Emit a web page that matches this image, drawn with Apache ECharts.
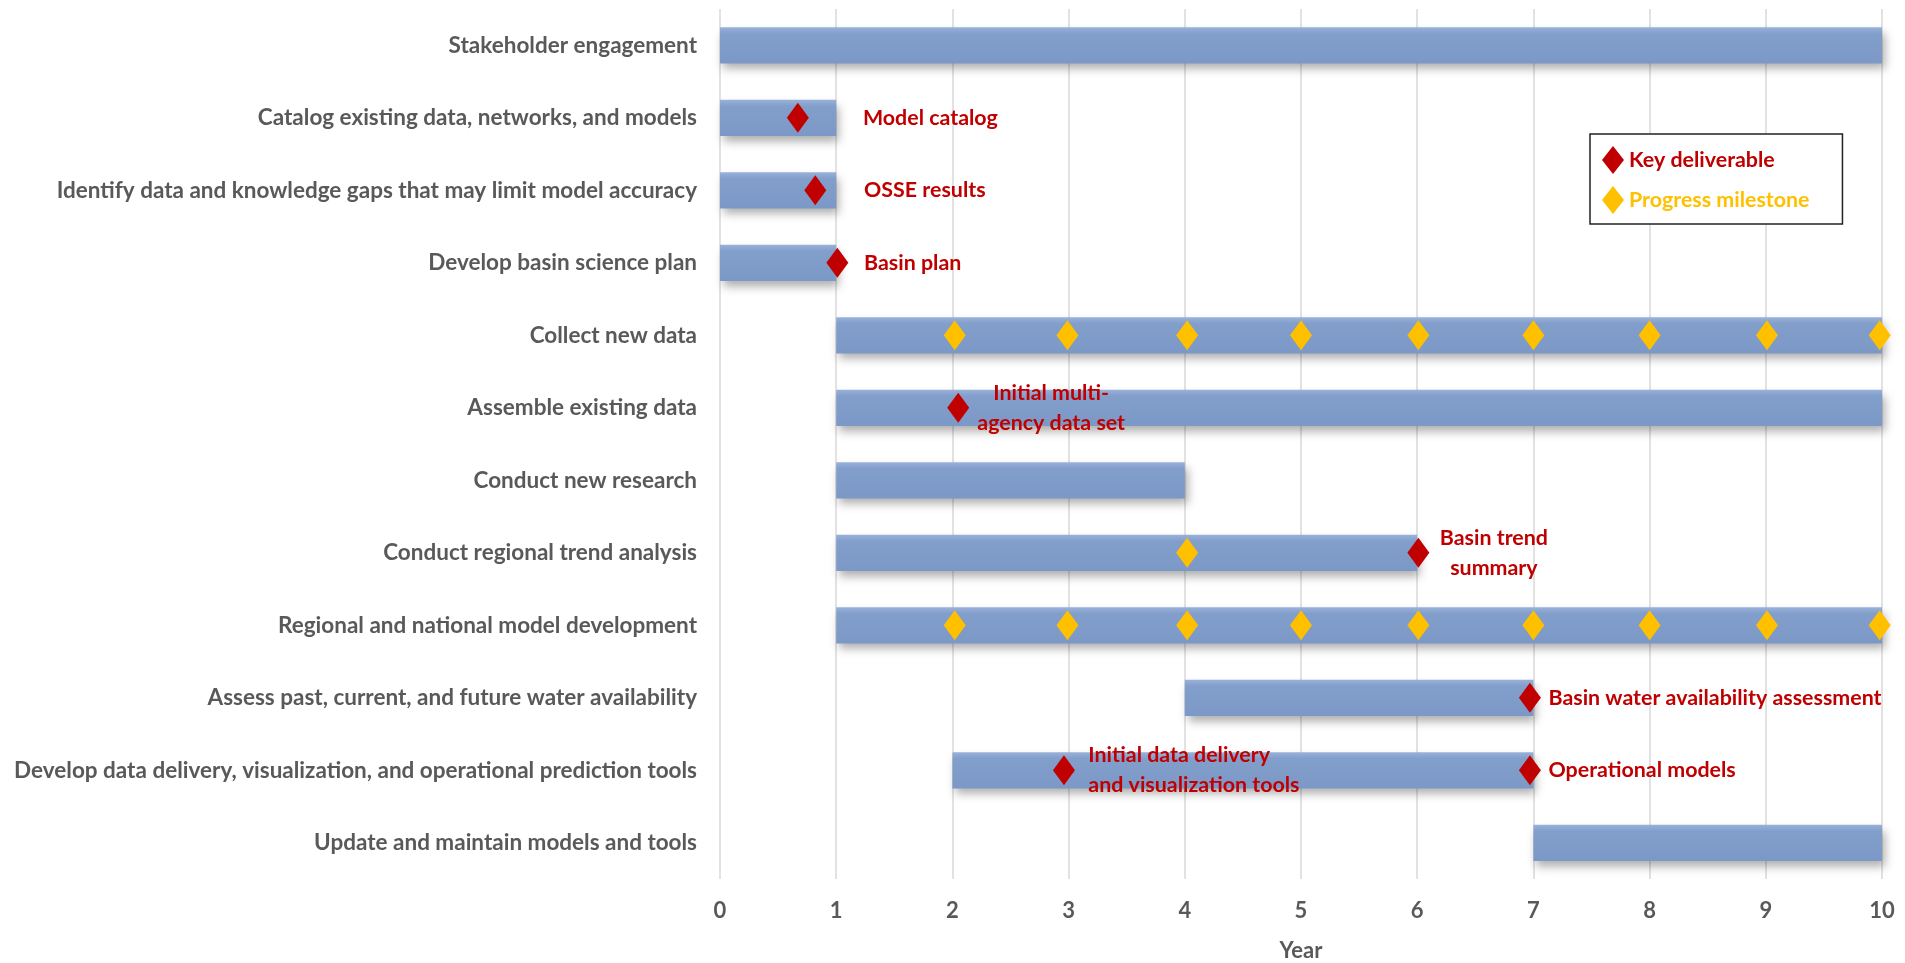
<!DOCTYPE html>
<html>
<head>
<meta charset="utf-8">
<title>Basin science plan schedule</title>
<script src="https://cdn.jsdelivr.net/npm/echarts@6/dist/echarts.min.js"></script>
<style>
  html, body { margin: 0; padding: 0; background: #fff; }
  #chart { width: 1905px; height: 963px; }
</style>
</head>
<body>
<div id="chart"></div>
<script>
// Tasks, top to bottom
const tasks = [
  'Stakeholder engagement',
  'Catalog existing data, networks, and models',
  'Identify data and knowledge gaps that may limit model accuracy',
  'Develop basin science plan',
  'Collect new data',
  'Assemble existing data',
  'Conduct new research',
  'Conduct regional trend analysis',
  'Regional and national model development',
  'Assess past, current, and future water availability',
  'Develop data delivery, visualization, and operational prediction tools',
  'Update and maintain models and tools'
];
// Start and end year of each task
const taskStart = [0, 0, 0, 0, 1, 1, 1, 1, 1, 4, 2, 7];
const taskEnd   = [10, 1, 1, 1, 10, 10, 4, 6, 10, 7, 7, 10];

// Key deliverables: year and task row
const keyYear = [0.67, 0.82, 1.01, 2.05, 6.01, 6.97, 2.96, 6.97];
const keyRow  = [1, 2, 3, 5, 7, 9, 10, 10];

// Progress milestones: year and task row
const mileYear = [2.02, 2.99, 4.02, 5.0, 6.01, 7.0, 8.0, 9.01, 9.98,
                  4.02,
                  2.02, 2.99, 4.02, 5.0, 6.01, 7.0, 8.0, 9.01, 9.98];
const mileRow  = [4, 4, 4, 4, 4, 4, 4, 4, 4,
                  7,
                  8, 8, 8, 8, 8, 8, 8, 8, 8];

// Deliverable notes: text, anchor year, row, alignment
const noteText  = ['Model catalog', 'OSSE results', 'Basin plan',
                   'Initial multi-\nagency data set', 'Basin trend\nsummary',
                   'Basin water availability assessment',
                   'Initial data delivery\nand visualization tools', 'Operational models'];
const noteYear  = [1.23, 1.24, 1.24, 2.85, 6.66, 7.13, 3.17, 7.13];
const noteRow   = [1, 2, 3, 5, 7, 9, 10, 10];
const noteAlign = ['left', 'left', 'left', 'center', 'center', 'left', 'left', 'left'];

const yearTicks = [0, 1, 2, 3, 4, 5, 6, 7, 8, 9, 10];

const FONT = "Lato, 'Open Sans', sans-serif";
const FS_CAT = 22.5;   // task names
const FS_NOTE = 21.4;  // deliverable notes and legend
const FS_AXIS = 22;    // year ticks and axis name
const GREY = '#595959';
const RED = '#C00000';
const GOLD = '#FFC000';

const chart = echarts.init(document.getElementById('chart'), null, { renderer: 'canvas' });

const barData = tasks.map((t, i) => [taskStart[i], taskEnd[i], i]);

const option = {
  animation: false,
  backgroundColor: '#ffffff',
  textStyle: { fontFamily: FONT },
  grid: { left: 720, right: 23, top: 9, bottom: 84, containLabel: false, outerBoundsMode: 'none' },
  xAxis: {
    type: 'value',
    min: 0, max: 10, interval: 1,
    name: 'Year',
    nameLocation: 'middle',
    nameGap: 61,
    nameTextStyle: { fontFamily: FONT, fontSize: FS_AXIS, fontWeight: 'bold', color: GREY },
    axisLine: { show: false },
    axisTick: { show: false },
    axisLabel: {
      margin: 21, fontFamily: FONT, fontSize: FS_AXIS, fontWeight: 'bold', color: GREY,
      formatter: v => yearTicks.includes(v) ? String(v) : ''
    },
    splitLine: { show: true, lineStyle: { color: '#d9d9d9', width: 1.5 } }
  },
  yAxis: {
    type: 'category',
    data: tasks,
    inverse: true,
    axisLine: { show: false },
    axisTick: { show: false },
    splitLine: { show: false },
    axisLabel: { margin: 23, fontFamily: FONT, fontSize: FS_CAT, fontWeight: 'bold', color: GREY }
  },
  legend: {
    orient: 'vertical',
    left: 1590, top: 134,
    padding: [12, 33, 10, 12],
    itemWidth: 22, itemHeight: 28, itemGap: 12,
    borderColor: '#222', borderWidth: 1.5,
    backgroundColor: '#fff',
    data: [
      { name: 'Key deliverable', textStyle: { color: RED } },
      { name: 'Progress milestone', textStyle: { color: GOLD } }
    ],
    textStyle: { fontFamily: FONT, fontSize: FS_NOTE, fontWeight: 'bold' }
  },
  series: [
    {
      name: 'Tasks',
      type: 'custom',
      encode: { x: [0, 1], y: 2 },
      data: barData,
      z: 2,
      renderItem: function (params, api) {
        const row = api.value(2);
        const p0 = api.coord([api.value(0), row]);
        const p1 = api.coord([api.value(1), row]);
        const h = api.size([0, 1])[1] * 0.5;
        return {
          type: 'rect',
          shape: { x: p0[0], y: p0[1] - h / 2, width: p1[0] - p0[0], height: h },
          style: {
            fill: new echarts.graphic.LinearGradient(0, 0, 0, 1, [
              { offset: 0, color: '#9AB2DA' },
              { offset: 0.18, color: '#829ECB' },
              { offset: 1, color: '#7C98C6' }
            ]),
            shadowColor: 'rgba(0,0,0,0.32)',
            shadowBlur: 9,
            shadowOffsetX: 3,
            shadowOffsetY: 6
          }
        };
      }
    },
    {
      name: 'Progress milestone',
      type: 'scatter',
      symbol: 'diamond',
      symbolSize: [22, 30],
      z: 4,
      itemStyle: { color: GOLD, opacity: 1 },
      data: mileYear.map((x, i) => [x, mileRow[i]])
    },
    {
      name: 'Key deliverable',
      type: 'scatter',
      symbol: 'diamond',
      symbolSize: [22, 30],
      z: 5,
      itemStyle: { color: RED, opacity: 1 },
      data: keyYear.map((x, i) => [x, keyRow[i]])
    },
    {
      name: 'Notes',
      type: 'scatter',
      symbolSize: 0,
      z: 6,
      silent: true,
      itemStyle: { opacity: 1 },
      data: noteText.map((t, i) => ({
        value: [noteYear[i], noteRow[i]],
        label: {
          show: true,
          formatter: t,
          position: noteAlign[i] === 'center' ? 'inside' : 'right',
          distance: 0,
          align: noteAlign[i],
          verticalAlign: 'middle',
          color: RED,
          fontFamily: FONT,
          fontSize: FS_NOTE,
          fontWeight: 'bold',
          lineHeight: 30
        }
      }))
    }
  ]
};

chart.setOption(option);
</script>
</body>
</html>
